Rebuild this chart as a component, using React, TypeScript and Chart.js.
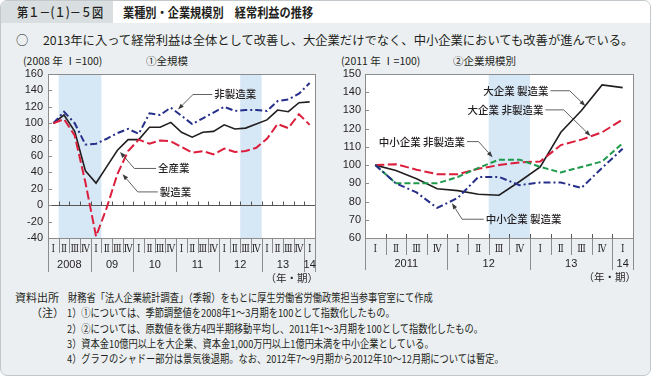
import React, { useEffect, useRef } from 'react';
import { Chart, registerables } from 'chart.js';

Chart.register(...registerables);

// ---------- data ----------
const quartersLeft = ['Ⅰ', 'Ⅱ', 'Ⅲ', 'Ⅳ', 'Ⅰ', 'Ⅱ', 'Ⅲ', 'Ⅳ', 'Ⅰ', 'Ⅱ', 'Ⅲ', 'Ⅳ', 'Ⅰ', 'Ⅱ', 'Ⅲ', 'Ⅳ', 'Ⅰ', 'Ⅱ', 'Ⅲ', 'Ⅳ', 'Ⅰ', 'Ⅱ', 'Ⅲ', 'Ⅳ', 'Ⅰ'];
const yearsLeft = ['2008', '09', '10', '11', '12', '13', '14'];
const yearStartsLeft = [0, 4, 8, 12, 16, 20, 24];
const shadesLeft = [[1, 4], [18, 19]];
const allIndustry = [100, 110, 90, 42, 27, 47, 67, 80, 80, 95, 95, 101, 89, 83, 89, 90, 98, 93, 94, 99, 104, 116, 114, 125, 126];
const manufacturing = [100, 105, 85, 28, -38, -3, 38, 66, 80, 75, 79, 78, 71, 64, 66, 62, 69, 65, 66, 70, 81, 99, 94, 111, 98];
const nonManufacturing = [100, 114, 100, 74, 75, 81, 88, 93, 87, 112, 110, 119, 109, 99, 106, 113, 120, 115, 116, 116, 115, 127, 129, 136, 149];

const quartersRight = ['Ⅰ', 'Ⅱ', 'Ⅲ', 'Ⅳ', 'Ⅰ', 'Ⅱ', 'Ⅲ', 'Ⅳ', 'Ⅰ', 'Ⅱ', 'Ⅲ', 'Ⅳ', 'Ⅰ'];
const yearsRight = ['2011', '12', '13', '14'];
const yearStartsRight = [0, 4, 8, 12];
const shadesRight = [[6, 7]];
const largeMfg = [100, 97, 92.5, 87, 86, 84, 83.5, 91, 99, 118, 130, 144, 142.5];
const largeNonMfg = [100, 100.5, 97.5, 95, 95, 98, 100, 101.5, 102, 111, 114, 118, 125];
const smeNonMfg = [100, 90, 90, 90, 93.5, 98.5, 103, 103, 99, 96, 99, 102, 112];
const smeMfg = [100, 90, 85, 76.5, 82, 93.5, 93.5, 89, 90.5, 90.5, 87.5, 98.5, 109];

// annotation callouts in data coordinates: tip -> elbow -> lineEnd, text next to lineEnd
const calloutsLeft = [
  { text: '非製造業', tip: [11.67, 116.7], elbow: [13.08, 135], end: [14.88, 135], side: 'right' },
  { text: '全産業', tip: [6.25, 65], elbow: [7.58, 44.8], end: [9.62, 44.8], side: 'right' },
  { text: '製造業', tip: [6.48, 37.8], elbow: [7.9, 16.2], end: [9.78, 16.2], side: 'right' },
];
const calloutsRight = [
  { text: '大企業 製造業', tip: [10.19, 132.5], elbow: [9.43, 140.8], end: [8.5, 140.8], side: 'left' },
  { text: '大企業 非製造業', tip: [10.44, 116], elbow: [9.14, 130.3], end: [8.25, 130.3], side: 'left' },
  { text: '中小企業 非製造業', tip: [5.69, 104.3], elbow: [5.01, 112.9], end: [4.45, 112.9], side: 'left' },
  { text: '中小企業 製造業', tip: [3.72, 79.1], elbow: [4.21, 70.3], end: [5.26, 70.3], side: 'right' },
];

const notes = [
  { head: '資料出所', text: '財務省「法人企業統計調査」（季報）をもとに厚生労働省労働政策担当参事官室にて作成' },
  { head: '（注）', text: '1）①については、季節調整値を2008年1～3月期を100として指数化したもの。' },
  { head: '', text: '2）②については、原数値を後方4四半期移動平均し、2011年1～3月期を100として指数化したもの。' },
  { head: '', text: '3）資本金10億円以上を大企業、資本金1,000万円以上1億円未満を中小企業としている。' },
  { head: '', text: '4）グラフのシャドー部分は景気後退期。なお、2012年7～9月期から2012年10～12月期については暫定。' },
];

// ---------- styles ----------
const FONT_JP = '"Noto Sans CJK JP", "Noto Sans", sans-serif';
const FONT_NUM = '"Liberation Sans", Arial, sans-serif';
const FONT_SERIF = '"DejaVu Serif", "Liberation Serif", serif';
const INK = '#231f20';
const BLACK = '#231f20';
const RED = '#dc1e3c';
const BLUE = '#26308a';
const GREEN = '#1e9a4b';
const SHADE = '#d6e7f6';
const FRAME = '#8c8c8c';

type Callout = { text: string; tip: number[]; elbow: number[]; end: number[]; side: string };

function makePlugin(opts: {
  shades: number[][];
  years: string[];
  yearStarts: number[];
  count: number;
  zeroLine: boolean;
  callouts: Callout[];
  qSepLen: number;
  ySepLen: number;
  yearY: number;
}) {
  return {
    id: 'decor',
    beforeDatasetsDraw(chart: any) {
      const { ctx, chartArea: a, scales } = chart;
      const x = scales.x;
      const y = scales.y;
      const half = (x.getPixelForValue(1) - x.getPixelForValue(0)) / 2;
      ctx.save();
      ctx.fillStyle = '#ffffff';
      ctx.fillRect(a.left, a.top, a.right - a.left, a.bottom - a.top);
      ctx.fillStyle = SHADE;
      for (const [s, e] of opts.shades) {
        const x0 = x.getPixelForValue(s) - half;
        const x1 = x.getPixelForValue(e) + half;
        ctx.fillRect(x0, a.top, x1 - x0, a.bottom - a.top);
      }
      ctx.strokeStyle = '#555';
      ctx.lineWidth = 1;
      if (opts.zeroLine) {
        const y0 = Math.round(y.getPixelForValue(0)) + 0.5;
        ctx.beginPath();
        ctx.moveTo(a.left, y0);
        ctx.lineTo(a.right, y0);
        for (let i = 1; i < opts.count; i++) {
          const bx = Math.round(x.getPixelForValue(i) - half) + 0.5;
          ctx.moveTo(bx, y0);
          ctx.lineTo(bx, y0 - 4);
        }
        ctx.stroke();
      } else {
        ctx.beginPath();
        for (let i = 1; i < opts.count; i++) {
          const bx = Math.round(x.getPixelForValue(i) - half) + 0.5;
          ctx.moveTo(bx, a.bottom);
          ctx.lineTo(bx, a.bottom - 4);
        }
        ctx.stroke();
      }
      ctx.restore();
    },
    afterDatasetsDraw(chart: any) {
      const { ctx, chartArea: a, scales } = chart;
      const x = scales.x;
      const y = scales.y;
      const half = (x.getPixelForValue(1) - x.getPixelForValue(0)) / 2;
      ctx.save();
      // frame
      ctx.strokeStyle = FRAME;
      ctx.lineWidth = 1;
      ctx.strokeRect(Math.round(a.left) + 0.5, Math.round(a.top) + 0.5, Math.round(a.right - a.left), Math.round(a.bottom - a.top));
      // inward y ticks
      ctx.beginPath();
      for (const t of y.ticks) {
        const ty = Math.round(y.getPixelForValue(t.value)) + 0.5;
        ctx.moveTo(a.left, ty);
        ctx.lineTo(a.left + 4, ty);
      }
      ctx.stroke();
      // separators below the axis
      ctx.beginPath();
      for (let i = 0; i <= opts.count; i++) {
        const bx = Math.round(x.getPixelForValue(i) - half) + 0.5;
        const isYear = opts.yearStarts.includes(i) || i === opts.count;
        ctx.moveTo(bx, a.bottom);
        ctx.lineTo(bx, a.bottom + (isYear ? opts.ySepLen : opts.qSepLen));
      }
      ctx.stroke();
      // quarter labels (condensed serif roman numerals)
      ctx.fillStyle = INK;
      ctx.font = `11px ${FONT_SERIF}`;
      ctx.textAlign = 'center';
      ctx.textBaseline = 'middle';
      const wide = ctx.measureText('Ⅲ').width;
      const sx = Math.min(1, 8.6 / wide);
      for (let i = 0; i < opts.count; i++) {
        const cx = x.getPixelForValue(i);
        ctx.save();
        ctx.translate(cx, a.bottom + 11);
        ctx.scale(sx, 1);
        ctx.fillText(String(x.getLabelForValue(i)), 0, 0);
        ctx.restore();
      }
      // year labels
      ctx.font = `11px ${FONT_NUM}`;
      opts.years.forEach((lab, k) => {
        const s = opts.yearStarts[k];
        const e = k + 1 < opts.yearStarts.length ? opts.yearStarts[k + 1] - 1 : opts.count - 1;
        const cx = (x.getPixelForValue(s) + x.getPixelForValue(e)) / 2;
        ctx.fillText(lab, cx, a.bottom + opts.yearY);
      });
      ctx.font = `10.5px ${FONT_JP}`;
      ctx.textAlign = 'right';
      ctx.fillText('（年・期）', a.right + 3, a.bottom + opts.yearY + 13);
      // callouts
      ctx.strokeStyle = '#3a3a3a';
      ctx.fillStyle = '#3a3a3a';
      ctx.lineWidth = 0.8;
      for (const c of opts.callouts) {
        const tx = x.getPixelForValue(c.tip[0]);
        const ty = y.getPixelForValue(c.tip[1]);
        const ex = x.getPixelForValue(c.elbow[0]);
        const ey = y.getPixelForValue(c.elbow[1]);
        const lx = x.getPixelForValue(c.end[0]);
        const ly = y.getPixelForValue(c.end[1]);
        const ang = Math.atan2(ty - ey, tx - ex);
        const al = 6;
        const bx = tx - al * Math.cos(ang);
        const by = ty - al * Math.sin(ang);
        ctx.beginPath();
        ctx.moveTo(lx, ly);
        ctx.lineTo(ex, ey);
        ctx.lineTo(bx, by);
        ctx.stroke();
        ctx.beginPath();
        ctx.moveTo(tx, ty);
        ctx.lineTo(bx + 2.2 * Math.cos(ang + Math.PI / 2), by + 2.2 * Math.sin(ang + Math.PI / 2));
        ctx.lineTo(bx + 2.2 * Math.cos(ang - Math.PI / 2), by + 2.2 * Math.sin(ang - Math.PI / 2));
        ctx.closePath();
        ctx.fill();
        ctx.save();
        ctx.fillStyle = INK;
        ctx.font = `500 10.5px ${FONT_JP}`;
        ctx.textBaseline = 'middle';
        if (c.side === 'right') {
          ctx.textAlign = 'left';
          ctx.fillText(c.text, lx + 2, ly);
        } else {
          ctx.textAlign = 'right';
          ctx.fillText(c.text, lx - 2, ly);
        }
        ctx.restore();
      }
      ctx.restore();
    },
  };
}

function lineDs(label: string, data: number[], color: string, dash: number[], width: number) {
  return {
    label,
    data,
    borderColor: color,
    backgroundColor: color,
    borderWidth: width,
    borderDash: dash,
    pointRadius: 0,
    tension: 0,
    fill: false,
  };
}

function baseOptions(min: number, max: number, step: number, yWidth: number, padRight: number, labelPad: number) {
  return {
    animation: false,
    responsive: false,
    maintainAspectRatio: false,
    events: [],
    layout: { padding: { top: 14, right: padRight, bottom: 0, left: 0 } },
    plugins: { legend: { display: false }, tooltip: { enabled: false } },
    scales: {
      x: {
        type: 'category',
        offset: true,
        grid: { display: false, drawTicks: false },
        border: { display: false },
        ticks: { display: false, autoSkip: false },
        afterFit: (s: any) => { s.height = 47; },
      },
      y: {
        min,
        max,
        grid: { display: false, drawTicks: false },
        border: { display: false },
        ticks: { stepSize: step, padding: labelPad, color: INK, font: { family: FONT_NUM, size: 11 } },
        afterFit: (s: any) => { s.width = yWidth; },
      },
    },
  };
}

function LeftChart() {
  const ref = useRef<HTMLCanvasElement>(null);
  useEffect(() => {
    const chart = new Chart(ref.current as HTMLCanvasElement, {
      type: 'line',
      data: {
        labels: quartersLeft,
        datasets: [
          lineDs('製造業', manufacturing, RED, [9, 3.5], 2),
          lineDs('非製造業', nonManufacturing, BLUE, [7, 3, 2, 3], 2),
          lineDs('全産業', allIndustry, BLACK, [], 1.6),
        ],
      },
      options: baseOptions(-40, 160, 20, 48, 15, 5) as any,
      plugins: [makePlugin({ shades: shadesLeft, years: yearsLeft, yearStarts: yearStartsLeft, count: quartersLeft.length, zeroLine: true, callouts: calloutsLeft, qSepLen: 15, ySepLen: 34, yearY: 27 })],
    });
    return () => chart.destroy();
  }, []);
  return <canvas ref={ref} width={330} height={225} style={{ position: 'absolute', left: 0, top: 60, width: 330, height: 225 }} />;
}

function RightChart() {
  const ref = useRef<HTMLCanvasElement>(null);
  useEffect(() => {
    const chart = new Chart(ref.current as HTMLCanvasElement, {
      type: 'line',
      data: {
        labels: quartersRight,
        datasets: [
          lineDs('中小企業 製造業', smeMfg, BLUE, [7, 3, 2, 3], 2),
          lineDs('中小企業 非製造業', smeNonMfg, GREEN, [6, 3], 2),
          lineDs('大企業 非製造業', largeNonMfg, RED, [9, 3.5], 2),
          lineDs('大企業 製造業', largeMfg, BLACK, [], 1.6),
        ],
      },
      options: baseOptions(60, 150, 10, 35, 19, 4) as any,
      plugins: [makePlugin({ shades: shadesRight, years: yearsRight, yearStarts: yearStartsRight, count: quartersRight.length, zeroLine: false, callouts: calloutsRight, qSepLen: 17, ySepLen: 32, yearY: 26 })],
    });
    return () => chart.destroy();
  }, []);
  return <canvas ref={ref} width={322} height={225} style={{ position: 'absolute', left: 330, top: 60, width: 322, height: 225 }} />;
}

const txt = (extra: React.CSSProperties): React.CSSProperties => ({
  position: 'absolute',
  fontFamily: FONT_JP,
  color: INK,
  whiteSpace: 'nowrap',
  lineHeight: 1,
  ...extra,
});

export default function App() {
  return (
    <div style={{ position: 'fixed', left: 0, top: 0, width: 652, height: 380, background: '#ffffff', overflow: 'hidden' }}>
      <div style={{ position: 'absolute', left: 0, top: 0, width: 649, height: 374, background: '#eceff1', border: '1px solid #c3c8cc', borderRadius: 7, overflow: 'hidden' }}>
        <div style={{ position: 'absolute', left: 0, top: 0, width: 649, height: 22, background: '#ffffff' }} />
        <div style={{ position: 'absolute', left: 0, top: 0, width: 112, height: 22, background: '#d9dee1' }} />
      </div>
      <div style={txt({ left: 17, top: 5, fontSize: 13, fontWeight: 500, transform: 'scaleX(0.86)', transformOrigin: 'left center' })}>第１－(１)－５図</div>
      <div style={txt({ left: 123, top: 5, fontSize: 13, fontWeight: 700, transform: 'scaleX(0.86)', transformOrigin: 'left center' })}>業種別・企業規模別　経常利益の推移</div>
      <div style={txt({ left: 16, top: 34, fontSize: 12.3 })}>○</div>
      <div style={txt({ left: 43, top: 34, fontSize: 12.3 })}>2013年に入って経常利益は全体として改善し、大企業だけでなく、中小企業においても改善が進んでいる。</div>
      <div style={txt({ left: 23, top: 56, fontSize: 10.5 })}>(2008 年 Ⅰ=100)</div>
      <div style={txt({ left: 146, top: 56, fontSize: 10.5 })}>①全規模</div>
      <div style={txt({ left: 341, top: 56, fontSize: 10.5 })}>(2011 年 Ⅰ=100)</div>
      <div style={txt({ left: 453, top: 56, fontSize: 10.5 })}>②企業規模別</div>
      <LeftChart />
      <RightChart />
      {notes.map((n, i) => (
        <React.Fragment key={i}>
          {n.head ? <div style={txt({ left: i === 0 ? 15 : 31, top: 292 + i * 15.3, fontSize: 11 })}>{n.head}</div> : null}
          <div style={txt({ left: i === 0 ? 68 : 67, top: 292 + i * 15.3, fontSize: 11, transform: 'scaleX(0.84)', transformOrigin: 'left center' })}>{n.text}</div>
        </React.Fragment>
      ))}
    </div>
  );
}
